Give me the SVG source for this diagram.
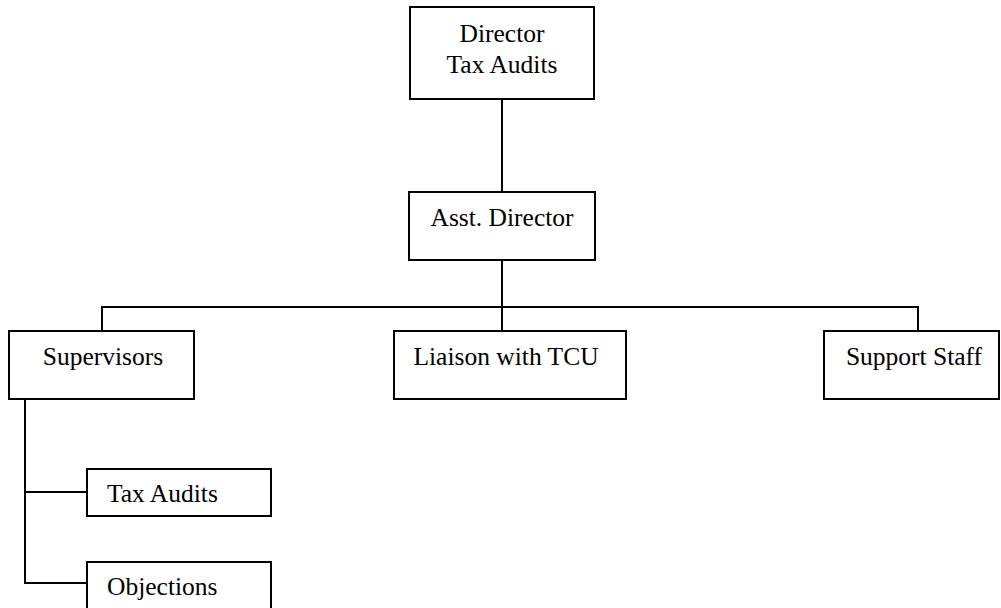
<svg xmlns="http://www.w3.org/2000/svg" width="1001" height="608" viewBox="0 0 1001 608">
<style>
.box{fill:#fff;stroke:#000;stroke-width:2}
.ln{fill:none;stroke:#000;stroke-width:2}
text{font-family:"Liberation Serif","Times New Roman",serif;font-size:25.5px;fill:#000}
.c{text-anchor:middle}
</style>
<rect width="1001" height="608" fill="#fff"/>
<g id="connectors">
<path class="ln" d="M502,99V192"/>
<path class="ln" d="M502,260V307"/>
<path class="ln" d="M102,331V307H918V331"/>
<path class="ln" d="M502,307V331"/>
<path class="ln" d="M25,399V583H87"/>
<path class="ln" d="M25,492H87"/>
</g>
<g id="director">
<rect class="box" x="410" y="7" width="184" height="92"/>
<text class="c" x="502" y="42">Director</text>
<text class="c" x="502" y="73">Tax Audits</text>
</g>
<g id="asst-director">
<rect class="box" x="409" y="192" width="186" height="68"/>
<text class="c" x="502" y="226">Asst. Director</text>
</g>
<g id="supervisors">
<rect class="box" x="9" y="331" width="185" height="68"/>
<text class="c" x="103" y="365">Supervisors</text>
</g>
<g id="liaison">
<rect class="box" x="394" y="331" width="232" height="68"/>
<text class="c" x="506" y="365">Liaison with TCU</text>
</g>
<g id="support-staff">
<rect class="box" x="824" y="331" width="175" height="68"/>
<text class="c" x="914" y="365">Support Staff</text>
</g>
<g id="tax-audits">
<rect class="box" x="87" y="469" width="184" height="47"/>
<text x="107" y="502">Tax Audits</text>
</g>
<g id="objections">
<rect class="box" x="87" y="562" width="184" height="60"/>
<text x="107" y="595">Objections</text>
</g>
</svg>
